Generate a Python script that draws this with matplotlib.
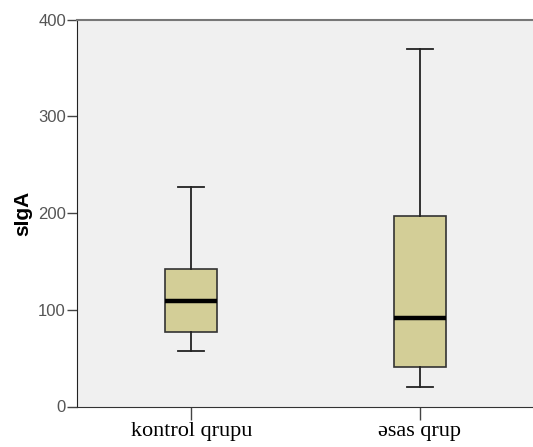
import matplotlib
matplotlib.use("Agg")
import matplotlib.pyplot as plt

# group labels and box statistics
groups = ["kontrol qrupu", "əsas qrup"]
whisker_low = [57, 20]
q1 = [77.5, 41]
median = [109, 91]
q3 = [142, 197]
whisker_high = [227, 369]
y_ticks = [0, 100, 200, 300, 400]

stats = []
for i, g in enumerate(groups):
    stats.append({"label": g, "whislo": whisker_low[i], "q1": q1[i], "med": median[i],
                  "q3": q3[i], "whishi": whisker_high[i], "fliers": []})

fig = plt.figure(figsize=(5.33, 4.47), dpi=100)
ax = fig.add_axes([77 / 533, 40.5 / 447, 1 - 77 / 533 + 0.002, (406.5 - 19.5) / 447])
ax.set_facecolor("#f0f0f0")

ax.bxp(stats, positions=[1, 2], widths=0.228, patch_artist=True, showfliers=False,
       boxprops=dict(facecolor="#d3ce97", edgecolor="#333333", linewidth=1.2),
       medianprops=dict(color="black", linewidth=3.2, solid_capstyle="butt"),
       whiskerprops=dict(color="#222222", linewidth=1.3),
       capprops=dict(color="#222222", linewidth=1.3),
       capwidths=0.114)

ax.set_xlim(0.5, 2.5)
ax.set_ylim(0, 400)
ax.set_yticks(y_ticks)
ax.tick_params(axis="y", length=7, width=1, color="#444444", labelcolor="#555555",
               labelsize=12, pad=1)
ax.tick_params(axis="x", length=9, width=1, color="#444444", labelsize=16, pad=2)
for lab in ax.get_xticklabels():
    lab.set_family("Liberation Serif")
for lab in ax.get_yticklabels():
    lab.set_family("Liberation Sans")

ax.spines["left"].set_color("#222222")
ax.spines["bottom"].set_color("#333333")
ax.spines["top"].set_color("#777777")
ax.spines["top"].set_linewidth(1.5)
ax.spines["right"].set_visible(False)

ax.set_ylabel("sIgA", family="Liberation Sans", fontweight="bold", fontsize=15, labelpad=4)

fig.savefig("out.png", dpi=100)
